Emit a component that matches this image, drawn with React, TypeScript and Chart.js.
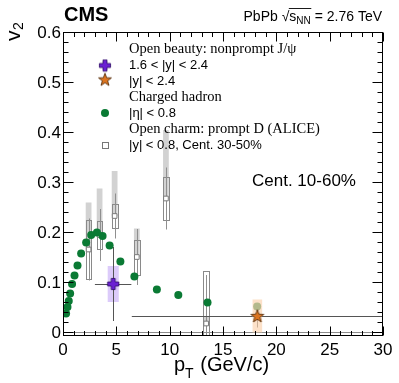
import React, { useEffect, useRef } from 'react';
import { Chart, registerables } from 'chart.js';
Chart.register(...registerables);

// ---------- data ----------
const chargedPt = [0.29, 0.42, 0.54, 0.67, 0.85, 1.08, 1.36, 1.70, 2.17, 2.64, 3.18, 3.71, 4.37, 5.38, 6.69, 8.80, 10.81, 13.55, 18.2];
const chargedV2 = [0.037, 0.050, 0.062, 0.077, 0.096, 0.113, 0.133, 0.157, 0.179, 0.194, 0.199, 0.192, 0.173, 0.141, 0.111, 0.085, 0.074, 0.059, 0.051];

const npFwdPt = [4.71];
const npFwdV2 = [0.096];
const npFwdPtLo = [2.99];
const npFwdPtHi = [6.41];
const npFwdStat = [0.074];
const npFwdSyst = [0.036];

const npMidPt = [18.22];
const npMidV2 = [0.032];
const npMidPtLo = [6.45];
const npMidPtHi = [50];
const npMidStat = [0.023];
const npMidSyst = [0.033];

const dPt = [2.4, 3.43, 4.84, 6.92, 9.65, 13.42];
const dV2 = [0.165, 0.194, 0.232, 0.150, 0.267, 0.017];
const dStat = [0.062, 0.052, 0.045, 0.056, 0.062, 0.097];
const dSyst = [0.059, 0.028, 0.025, 0.035, 0.043, 0.105];
const dFeedTop = [0.259, 0.287, 0.322, 0.207, 0.404, 0.030];

const xTicks = [0, 5, 10, 15, 20, 25, 30];
const xTickLabels = ['0', '5', '10', '15', '20', '25', '30'];
const yTicks = [0, 0.1, 0.2, 0.3, 0.4, 0.5, 0.6];
const yTickLabels = ['0', '0.1', '0.2', '0.3', '0.4', '0.5', '0.6'];

// ---------- styles ----------
const SANS = '"Liberation Sans", Arial, Helvetica, sans-serif';
const SERIF = '"Liberation Serif", "Times New Roman", serif';
const GREEN = '#0a7a34';
const PURPLE = '#6a20d2';
const ORANGE = '#db7420';
const GREY_BAND = 'rgba(195,195,195,0.75)';
const BOX = '#8a8a8a';

function makeCross(): HTMLCanvasElement {
  const c = document.createElement('canvas');
  c.width = 14; c.height = 14;
  const g = c.getContext('2d')!;
  const cx = 7, cy = 7, L = 5.6, T = 2;
  g.beginPath();
  g.moveTo(cx - T, cy - L); g.lineTo(cx + T, cy - L); g.lineTo(cx + T, cy - T);
  g.lineTo(cx + L, cy - T); g.lineTo(cx + L, cy + T); g.lineTo(cx + T, cy + T);
  g.lineTo(cx + T, cy + L); g.lineTo(cx - T, cy + L); g.lineTo(cx - T, cy + T);
  g.lineTo(cx - L, cy + T); g.lineTo(cx - L, cy - T); g.lineTo(cx - T, cy - T);
  g.closePath();
  g.fillStyle = PURPLE; g.fill();
  g.strokeStyle = '#2c0a63'; g.lineWidth = 0.8; g.stroke();
  return c;
}

function makeStar(): HTMLCanvasElement {
  const c = document.createElement('canvas');
  c.width = 16; c.height = 16;
  const g = c.getContext('2d')!;
  const cx = 8, cy = 8.5, R = 6.8, r = 2.8;
  g.beginPath();
  for (let i = 0; i < 10; i++) {
    const a = -Math.PI / 2 + (i * Math.PI) / 5;
    const rr = i % 2 === 0 ? R : r;
    const px = cx + rr * Math.cos(a), py = cy + rr * Math.sin(a);
    if (i === 0) g.moveTo(px, py); else g.lineTo(px, py);
  }
  g.closePath();
  g.fillStyle = ORANGE; g.fill();
  g.strokeStyle = '#4a2300'; g.lineWidth = 0.8; g.stroke();
  return c;
}

export default function App() {
  const ref = useRef<HTMLCanvasElement>(null);

  useEffect(() => {
    const crossImg = makeCross();
    const starImg = makeStar();

    const decor = {
      id: 'decor',
      beforeDatasetsDraw(chart: any) {
        const { ctx, chartArea: a, scales } = chart;
        const x = scales.x, y = scales.y;
        ctx.save();
        ctx.beginPath();
        ctx.rect(a.left, a.top, a.right - a.left, a.bottom - a.top);
        ctx.clip();

        // zero line
        ctx.strokeStyle = '#8c8c8c';
        ctx.lineWidth = 1;
        const y0 = Math.round(y.getPixelForValue(0)) + 0.5;
        ctx.beginPath(); ctx.moveTo(a.left, y0); ctx.lineTo(a.right, y0); ctx.stroke();

        // D meson feed-down bands
        const halfW = 0.27;
        for (let i = 0; i < dPt.length; i++) {
          const x1 = x.getPixelForValue(dPt[i] - halfW), x2 = x.getPixelForValue(dPt[i] + halfW);
          const yt = y.getPixelForValue(dFeedTop[i]), yb = y.getPixelForValue(dV2[i]);
          ctx.fillStyle = GREY_BAND;
          ctx.fillRect(x1, yt, x2 - x1, yb - yt);
        }
        // D meson syst boxes
        ctx.strokeStyle = BOX; ctx.lineWidth = 1;
        for (let i = 0; i < dPt.length; i++) {
          const x1 = Math.round(x.getPixelForValue(dPt[i] - halfW)) + 0.5;
          const x2 = Math.round(x.getPixelForValue(dPt[i] + halfW)) + 0.5;
          const yt = Math.round(y.getPixelForValue(dV2[i] + dSyst[i])) + 0.5;
          const yb = Math.round(y.getPixelForValue(dV2[i] - dSyst[i])) + 0.5;
          ctx.strokeRect(x1, yt, x2 - x1, yb - yt);
        }
        // D meson stat bars
        ctx.strokeStyle = '#8f8f8f';
        for (let i = 0; i < dPt.length; i++) {
          const px = Math.round(x.getPixelForValue(dPt[i])) + 0.5;
          ctx.beginPath();
          ctx.moveTo(px, y.getPixelForValue(dV2[i] + dStat[i]));
          ctx.lineTo(px, y.getPixelForValue(dV2[i] - dStat[i]));
          ctx.stroke();
        }

        // forward nonprompt J/psi syst band
        for (let i = 0; i < npFwdPt.length; i++) {
          const x1 = x.getPixelForValue(npFwdPt[i] - 0.52), x2 = x.getPixelForValue(npFwdPt[i] + 0.52);
          const yt = y.getPixelForValue(npFwdV2[i] + npFwdSyst[i]), yb = y.getPixelForValue(npFwdV2[i] - npFwdSyst[i]);
          ctx.fillStyle = 'rgba(208,186,248,0.75)';
          ctx.fillRect(x1, yt, x2 - x1, yb - yt);
        }
        // error bars for both J/psi points
        ctx.strokeStyle = '#555555'; ctx.lineWidth = 1;
        const ebar = (pt: number, v: number, lo: number, hi: number, st: number) => {
          const px = Math.round(x.getPixelForValue(pt)) + 0.5;
          const py = Math.round(y.getPixelForValue(v)) + 0.5;
          ctx.beginPath();
          ctx.moveTo(x.getPixelForValue(lo), py); ctx.lineTo(x.getPixelForValue(hi), py);
          ctx.moveTo(px, y.getPixelForValue(v + st)); ctx.lineTo(px, y.getPixelForValue(v - st));
          ctx.stroke();
        };
        for (let i = 0; i < npFwdPt.length; i++) ebar(npFwdPt[i], npFwdV2[i], npFwdPtLo[i], npFwdPtHi[i], npFwdStat[i]);
        for (let i = 0; i < npMidPt.length; i++) ebar(npMidPt[i], npMidV2[i], npMidPtLo[i], npMidPtHi[i], npMidStat[i]);
        ctx.restore();
      },
      afterDatasetDraw(chart: any, args: any) {
        if (args.index !== 1) return;
        const { ctx, chartArea: a, scales } = chart;
        const x = scales.x, y = scales.y;
        ctx.save();
        ctx.beginPath();
        ctx.rect(a.left, a.top, a.right - a.left, a.bottom - a.top);
        ctx.clip();
        for (let i = 0; i < npMidPt.length; i++) {
          const x1 = x.getPixelForValue(npMidPt[i] - 0.45), x2 = x.getPixelForValue(npMidPt[i] + 0.45);
          const yt = y.getPixelForValue(npMidV2[i] + npMidSyst[i]), yb = y.getPixelForValue(npMidV2[i] - npMidSyst[i]);
          ctx.fillStyle = 'rgba(251,212,178,0.7)';
          ctx.fillRect(x1, yt, x2 - x1, yb - yt);
        }
        ctx.restore();
      },
      afterDraw(chart: any) {
        const { ctx, chartArea: a, scales } = chart;
        const x = scales.x, y = scales.y;
        ctx.save();
        // frame
        ctx.strokeStyle = '#000'; ctx.lineWidth = 1;
        const L = Math.round(a.left) + 0.5, R = Math.round(a.right) - 0.5;
        const T = Math.round(a.top) + 0.5, B = Math.round(a.bottom) - 0.5;
        ctx.strokeRect(L, T, R - L, B - T);
        // x ticks
        ctx.beginPath();
        for (let v = 0; v <= 30; v += 1) {
          const px = Math.round(x.getPixelForValue(v)) + 0.5;
          const len = v % 5 === 0 ? 9 : 4.5;
          ctx.moveTo(px, B); ctx.lineTo(px, B - len);
          ctx.moveTo(px, T); ctx.lineTo(px, T + len);
        }
        // y ticks
        for (let k = 0; k <= 30; k++) {
          const v = k * 0.02;
          const py = Math.round(y.getPixelForValue(v)) + 0.5;
          const len = k % 5 === 0 ? 10 : 5;
          ctx.moveTo(L, py); ctx.lineTo(L + len, py);
          ctx.moveTo(R, py); ctx.lineTo(R - len, py);
        }
        ctx.stroke();

        // tick labels
        ctx.fillStyle = '#000';
        ctx.font = `17px ${SANS}`;
        ctx.textAlign = 'center'; ctx.textBaseline = 'alphabetic';
        xTicks.forEach((v, i) => ctx.fillText(xTickLabels[i], x.getPixelForValue(v), 355));
        ctx.textAlign = 'right'; ctx.textBaseline = 'middle';
        yTicks.forEach((v, i) => ctx.fillText(yTickLabels[i], 61, y.getPixelForValue(v) + 1));

        // x title
        ctx.textAlign = 'left'; ctx.textBaseline = 'alphabetic';
        ctx.font = `20px ${SANS}`;
        ctx.fillText('p', 174, 371);
        let xx = 174 + ctx.measureText('p').width;
        ctx.font = `14px ${SANS}`;
        ctx.fillText('T', xx, 378);
        xx += ctx.measureText('T').width + 1;
        ctx.font = `20px ${SANS}`;
        ctx.fillText(' (GeV/c)', xx, 371);

        // y title
        ctx.save();
        ctx.translate(20, 41);
        ctx.rotate(-Math.PI / 2);
        ctx.font = `21px ${SANS}`;
        ctx.textAlign = 'left'; ctx.textBaseline = 'alphabetic';
        ctx.fillText('v', 0, 0);
        const vw = ctx.measureText('v').width;
        ctx.font = `14px ${SANS}`;
        ctx.fillText('2', vw + 0.5, 3);
        ctx.restore();

        // CMS
        ctx.font = `bold 20px ${SANS}`;
        ctx.textAlign = 'left';
        ctx.fillText('CMS', 64, 21);

        // header
        const hf = `14px ${SANS}`, sf = `10px ${SANS}`;
        ctx.font = hf;
        const p1 = 'PbPb ', sq = '\u221A', s = 's', p3 = ' = 2.76 TeV';
        const w1 = ctx.measureText(p1).width, wsq = ctx.measureText(sq).width, ws = ctx.measureText(s).width, w3 = ctx.measureText(p3).width;
        ctx.font = sf;
        const wnn = ctx.measureText('NN').width;
        const total = w1 + wsq + ws + wnn + w3;
        let hx = 382 - total;
        const hb = 21;
        ctx.font = hf;
        ctx.fillText(p1, hx, hb); hx += w1;
        ctx.fillText(sq, hx, hb); hx += wsq;
        const olStart = hx - 0.5;
        ctx.fillText(s, hx, hb); hx += ws;
        ctx.font = sf;
        ctx.fillText('NN', hx, hb + 3); hx += wnn;
        ctx.beginPath(); ctx.lineWidth = 0.9;
        ctx.moveTo(olStart, 8.5); ctx.lineTo(hx + 0.5, 8.5); ctx.stroke();
        ctx.font = hf;
        ctx.fillText(p3, hx, hb);

        // Cent label
        ctx.font = `17px ${SANS}`;
        ctx.fillText('Cent. 10-60%', 252, 186);

        // legend
        const tx = 129, mx = 105;
        ctx.textBaseline = 'middle';
        ctx.font = `14.5px ${SERIF}`;
        ctx.fillText('Open beauty: nonprompt J/\u03C8', tx, 49.5);
        ctx.fillText('Charged hadron', tx, 97);
        ctx.fillText('Open charm: prompt D (ALICE)', tx, 129);
        ctx.font = `13px ${SANS}`;
        ctx.fillText('1.6 < |y| < 2.4', tx, 65.5);
        ctx.fillText('|y| < 2.4', tx, 81);
        ctx.fillText('|\u03B7| < 0.8', tx, 113.5);
        ctx.fillText('|y| < 0.8, Cent. 30-50%', tx, 145.5);
        ctx.drawImage(crossImg, mx - 7, 65.5 - 7);
        ctx.drawImage(starImg, mx - 8, 80 - 8.5);
        ctx.beginPath(); ctx.arc(mx, 113, 4, 0, Math.PI * 2);
        ctx.fillStyle = GREEN; ctx.fill();
        ctx.fillStyle = '#fff'; ctx.fillRect(mx - 3, 142, 7, 7);
        ctx.strokeStyle = '#777'; ctx.lineWidth = 1;
        ctx.strokeRect(mx - 3 + 0.5, 142.5, 6, 6);
        ctx.restore();
      },
    };

    const chart = new Chart(ref.current!, {
      type: 'scatter',
      data: {
        datasets: [
          {
            label: 'D',
            data: dPt.map((p, i) => ({ x: p, y: dV2[i] })),
            pointStyle: 'rect',
            pointRadius: 3.3,
            backgroundColor: '#ffffff',
            borderColor: '#7a7a7a',
            borderWidth: 1,
            order: 4,
          },
          {
            label: 'charged',
            data: chargedPt.map((p, i) => ({ x: p, y: chargedV2[i] })),
            pointStyle: 'circle',
            pointRadius: 4,
            backgroundColor: GREEN,
            borderColor: GREEN,
            borderWidth: 0,
            order: 3,
          },
          {
            label: 'npfwd',
            data: npFwdPt.map((p, i) => ({ x: p, y: npFwdV2[i] })),
            pointStyle: crossImg,
            order: 1,
          },
          {
            label: 'npmid',
            data: npMidPt.map((p, i) => ({ x: p, y: npMidV2[i] })),
            pointStyle: starImg,
            order: 0,
          },
        ],
      },
      options: {
        responsive: false,
        animation: false,
        devicePixelRatio: 1,
        layout: { padding: { left: 63, top: 32, right: 16, bottom: 47 } },
        plugins: { legend: { display: false }, tooltip: { enabled: false } },
        events: [],
        scales: {
          x: { type: 'linear', min: 0, max: 30, display: false },
          y: { type: 'linear', min: -0.008, max: 0.6, display: false },
        },
      },
      plugins: [decor],
    });
    return () => chart.destroy();
  }, []);

  return (
    <div style={{ position: 'absolute', left: 0, top: 0, width: 399, height: 383, background: '#fff' }}>
      <canvas ref={ref} width={399} height={383} style={{ display: 'block' }} />
    </div>
  );
}
